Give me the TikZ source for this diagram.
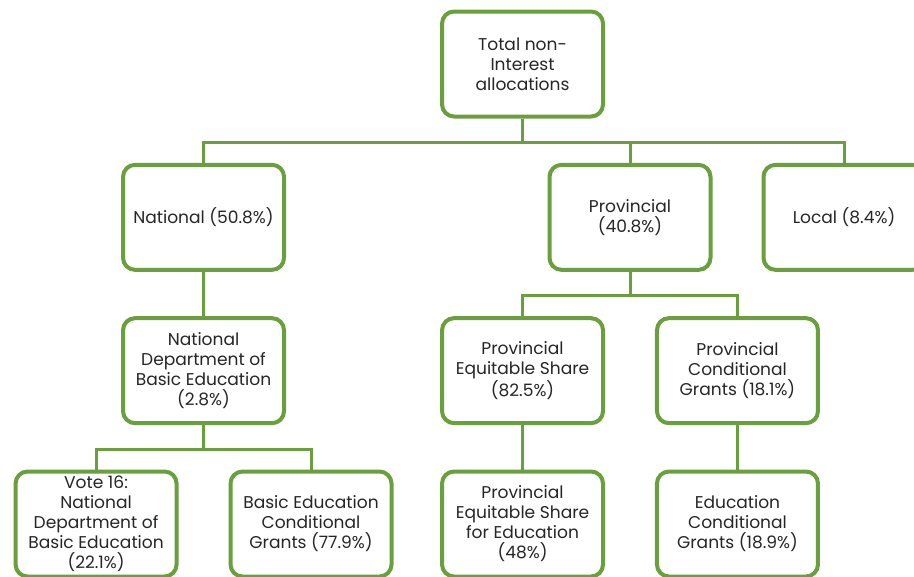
\documentclass[tikz,border=0pt]{standalone}
\usepackage{fontspec}
\setmainfont{Poppins}
\usetikzlibrary{positioning}

\definecolor{leaf}{HTML}{6A9F3E}
\definecolor{ink}{HTML}{262626}

\tikzset{
  box/.style={draw=leaf, line width=3pt, rounded corners=9pt, fill=white,
    minimum width=120.75pt, minimum height=78.75pt, align=center, text=ink,
    inner sep=2pt, font=\fontsize{12.8}{15}\selectfont},
  link/.style={draw=leaf, line width=2.25pt}
}

\begin{document}
\begin{tikzpicture}[node distance = 115pt and 80.6pt, on grid]
   \useasboundingbox (0,0) rectangle (685.5pt,-432pt);
   \node[box] (total) at (391.9pt,-48pt) {Total non-\\Interest\\allocations};
   \node[box] (national) [below left = 115pt and 239.25pt of total] {National (50.8\%)};
   \node[box] (provincial) [below right = 115pt and 80.6pt of total] {Provincial\\(40.8\%)};
   \node[box] (local) [right = 160.5pt of provincial] {Local (8.4\%)};
   \node[box] (ndbe) [below = of national] {National\\Department of\\Basic Education\\(2.8\%)};
   \node[box] (pes) [below left = of provincial] {Provincial\\Equitable Share\\(82.5\%)};
   \node[box] (pcg) [below right = of provincial] {Provincial\\Conditional\\Grants (18.1\%)};
   \node[box] (vote) [below left = of ndbe] {Vote 16:\\National\\Department of\\Basic Education\\(22.1\%)};
   \node[box] (becg) [below right = of ndbe] {Basic Education\\Conditional\\Grants (77.9\%)};
   \node[box] (pese) [below = of pes] {Provincial\\Equitable Share\\for Education\\(48\%)};
   \node[box] (ecg) [below = of pcg] {Education\\Conditional\\Grants (18.9\%)};
   % tree links
   \draw[link] (total.south) -- ++(0,-18pt) -| (national.north);
   \draw[link] (total.south) -- ++(0,-18pt) -| (provincial.north);
   \draw[link] (total.south) -- ++(0,-18pt) -| (local.north);
   \draw[link] (national) -- (ndbe);
   \draw[link] (provincial.south) -- ++(0,-18pt) -| (pes.north);
   \draw[link] (provincial.south) -- ++(0,-18pt) -| (pcg.north);
   \draw[link] (pes) -- (pese);
   \draw[link] (pcg) -- (ecg);
   \draw[link] (ndbe.south) -- ++(0,-18pt) -| (vote.north);
   \draw[link] (ndbe.south) -- ++(0,-18pt) -| (becg.north);
\end{tikzpicture}
\end{document}
